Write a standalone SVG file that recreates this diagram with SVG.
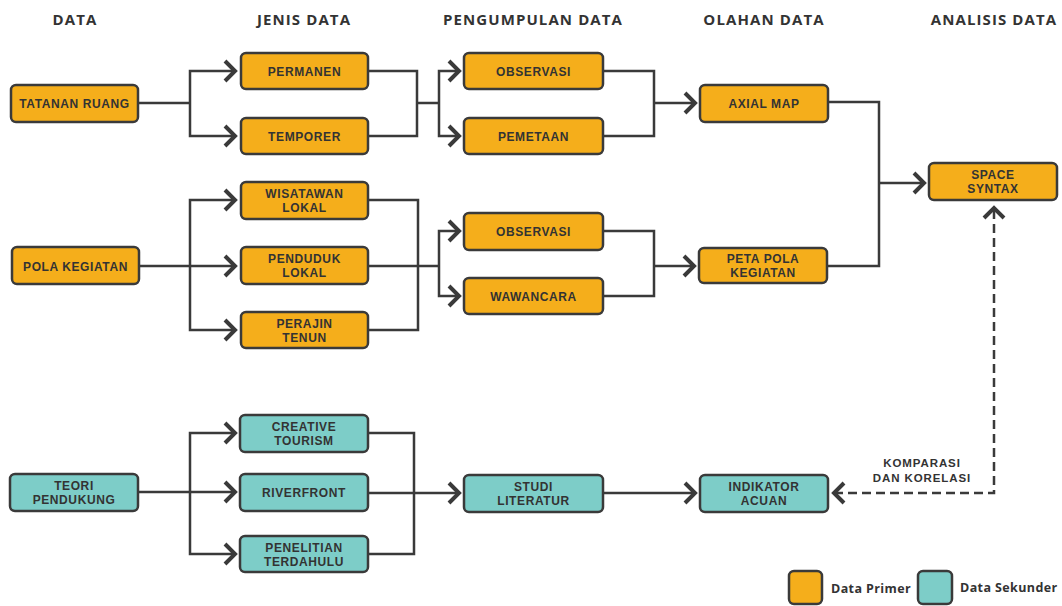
<svg xmlns="http://www.w3.org/2000/svg" width="1062" height="606" viewBox="0 0 1062 606">
<style>
.hdr{font-family:"Open Sans","Liberation Sans",sans-serif;font-weight:700;font-size:15px;fill:#333;letter-spacing:1.1px;text-anchor:middle}
.box{stroke:#3a3a3a;stroke-width:2.5}
.pri{fill:#F5AE1B}
.sek{fill:#7DCDC8}
.lbl{font-family:"Liberation Sans",Arial,sans-serif;font-weight:700;font-size:12px;fill:#333;letter-spacing:0.6px;text-anchor:middle}
.con{fill:none;stroke:#3a3a3a;stroke-width:2.5}
.arr{marker-end:url(#chev)}
.dash{stroke-dasharray:9 5}
.note{font-family:"Liberation Sans",Arial,sans-serif;font-weight:700;font-size:11.5px;fill:#333;letter-spacing:0.9px;text-anchor:middle}
.leg{font-family:"Open Sans","Liberation Sans",sans-serif;font-weight:700;font-size:12.5px;fill:#333;letter-spacing:0.4px}
</style>
<defs>
<marker id="chev" viewBox="-16 -14 20 28" markerWidth="20" markerHeight="28" refX="0" refY="0" orient="auto-start-reverse" markerUnits="userSpaceOnUse">
<path d="M-10,-10 L0,0 L-10,10" fill="none" stroke="#3a3a3a" stroke-width="4" stroke-dasharray="none"/>
</marker>
</defs>
<rect width="1062" height="606" fill="#fff"/>
<g id="headers">
<text class="hdr" x="75" y="25">DATA</text>
<text class="hdr" x="304" y="25">JENIS DATA</text>
<text class="hdr" x="533" y="25">PENGUMPULAN DATA</text>
<text class="hdr" x="764" y="25">OLAHAN DATA</text>
<text class="hdr" x="994" y="25">ANALISIS DATA</text>
</g>
<g id="connectors">
<path class="con" d="M138,103 H190"/>
<path class="con arr" d="M190,103 V71 H235"/>
<path class="con arr" d="M190,103 V136 H235"/>
<path class="con" d="M368,71 H417 V136 H368 M417,103 H439"/>
<path class="con arr" d="M439,103 V71 H459"/>
<path class="con arr" d="M439,103 V136 H459"/>
<path class="con" d="M603,71 H654 V136 H603"/>
<path class="con arr" d="M654,103 H695"/>
<path class="con" d="M828,102 H879 V266 H828"/>
<path class="con arr" d="M879,183 H924"/>
<path class="con arr" d="M139,266 H235"/>
<path class="con arr" d="M190,266 V200 H235"/>
<path class="con arr" d="M190,266 V330 H235"/>
<path class="con" d="M368,200 H418 V330 H368 M368,266 H439"/>
<path class="con arr" d="M439,266 V231 H459"/>
<path class="con arr" d="M439,266 V296 H459"/>
<path class="con" d="M603,231 H654 V296 H603"/>
<path class="con arr" d="M654,266 H694"/>
<path class="con arr" d="M138,492 H235"/>
<path class="con arr" d="M190,492 V433 H235"/>
<path class="con arr" d="M190,492 V554 H235"/>
<path class="con" d="M368,433 H414 V554 H368"/>
<path class="con arr" d="M368,493 H459"/>
<path class="con arr" d="M603,493 H695"/>
<path class="con dash" d="M834,493 H994 V208" marker-start="url(#chev)" marker-end="url(#chev)"/>
</g>
<g id="n-tatanan"><rect class="box pri" x="11" y="85" width="127" height="37" rx="5"/><text class="lbl" x="74.5" y="108">TATANAN RUANG</text></g>
<g id="n-permanen"><rect class="box pri" x="241" y="53" width="127" height="36" rx="5"/><text class="lbl" x="304.5" y="75.5">PERMANEN</text></g>
<g id="n-temporer"><rect class="box pri" x="241" y="118" width="127" height="36" rx="5"/><text class="lbl" x="304.5" y="140.5">TEMPORER</text></g>
<g id="n-observasi1"><rect class="box pri" x="464" y="53" width="139" height="36" rx="5"/><text class="lbl" x="533.5" y="75.5">OBSERVASI</text></g>
<g id="n-pemetaan"><rect class="box pri" x="464" y="118" width="139" height="36" rx="5"/><text class="lbl" x="533.5" y="140.5">PEMETAAN</text></g>
<g id="n-axial"><rect class="box pri" x="700" y="85" width="128" height="37" rx="5"/><text class="lbl" x="764" y="108">AXIAL MAP</text></g>
<g id="n-space"><rect class="box pri" x="929" y="163" width="128" height="37" rx="5"/><text class="lbl" x="993" y="179">SPACE<tspan x="993" dy="14">SYNTAX</tspan></text></g>
<g id="n-pola"><rect class="box pri" x="12" y="247" width="127" height="37" rx="5"/><text class="lbl" x="75.5" y="270.5">POLA KEGIATAN</text></g>
<g id="n-wisatawan"><rect class="box pri" x="241" y="182" width="127" height="37" rx="5"/><text class="lbl" x="304.5" y="198">WISATAWAN<tspan x="304.5" dy="14">LOKAL</tspan></text></g>
<g id="n-penduduk"><rect class="box pri" x="241" y="247" width="127" height="37" rx="5"/><text class="lbl" x="304.5" y="263">PENDUDUK<tspan x="304.5" dy="14">LOKAL</tspan></text></g>
<g id="n-perajin"><rect class="box pri" x="241" y="312" width="127" height="36" rx="5"/><text class="lbl" x="304.5" y="328">PERAJIN<tspan x="304.5" dy="14">TENUN</tspan></text></g>
<g id="n-observasi2"><rect class="box pri" x="464" y="213" width="139" height="37" rx="5"/><text class="lbl" x="533.5" y="236">OBSERVASI</text></g>
<g id="n-wawancara"><rect class="box pri" x="464" y="278" width="139" height="36" rx="5"/><text class="lbl" x="533.5" y="300.5">WAWANCARA</text></g>
<g id="n-petapola"><rect class="box pri" x="699" y="248" width="128" height="35" rx="5"/><text class="lbl" x="763" y="263">PETA POLA<tspan x="763" dy="14">KEGIATAN</tspan></text></g>
<g id="n-teori"><rect class="box sek" x="10" y="474" width="128" height="37" rx="5"/><text class="lbl" x="74" y="490">TEORI<tspan x="74" dy="14">PENDUKUNG</tspan></text></g>
<g id="n-creative"><rect class="box sek" x="240" y="415" width="128" height="37" rx="5"/><text class="lbl" x="304" y="431">CREATIVE<tspan x="304" dy="14">TOURISM</tspan></text></g>
<g id="n-riverfront"><rect class="box sek" x="240" y="474" width="128" height="37" rx="5"/><text class="lbl" x="304" y="497">RIVERFRONT</text></g>
<g id="n-penelitian"><rect class="box sek" x="240" y="536" width="128" height="36" rx="5"/><text class="lbl" x="304" y="552">PENELITIAN<tspan x="304" dy="14">TERDAHULU</tspan></text></g>
<g id="n-studi"><rect class="box sek" x="464" y="475" width="139" height="37" rx="5"/><text class="lbl" x="533.5" y="491">STUDI<tspan x="533.5" dy="14">LITERATUR</tspan></text></g>
<g id="n-indikator"><rect class="box sek" x="700" y="475" width="128" height="37" rx="5"/><text class="lbl" x="764" y="491">INDIKATOR<tspan x="764" dy="14">ACUAN</tspan></text></g>
<g id="label-komparasi"><text class="note" x="922" y="467">KOMPARASI<tspan x="922" dy="14.5">DAN KORELASI</tspan></text></g>
<g id="legend">
<rect class="box pri" x="789" y="571" width="33" height="33" rx="5"/>
<text class="leg" x="831" y="593">Data Primer</text>
<rect class="box sek" x="918" y="571" width="34" height="33" rx="5"/>
<text class="leg" x="960" y="592">Data Sekunder</text>
</g>
</svg>
